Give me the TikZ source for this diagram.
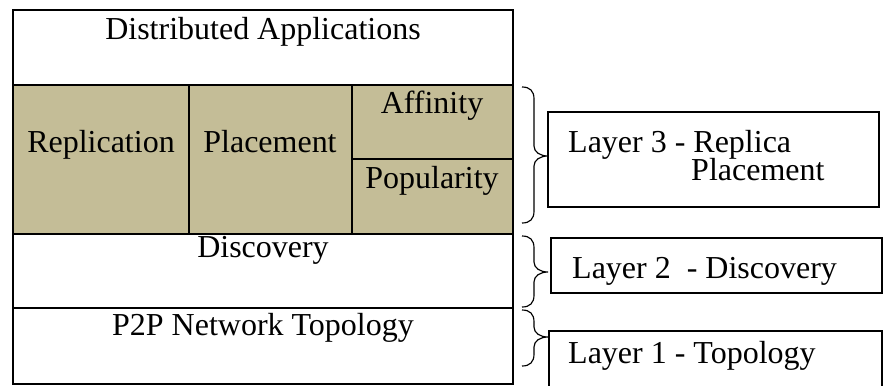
\documentclass[tikz,border=0pt]{standalone}
\usepackage{fontspec}
\setmainfont{Liberation Serif}
\usepackage{xcolor}
\usetikzlibrary{positioning}
\definecolor{tanfill}{HTML}{C4BD97}

\begin{document}
\begin{tikzpicture}[x=0.03cm,y=-0.03cm,
  cell/.style={line width=2pt},
  txt/.style={anchor=base,inner sep=0pt,font=\fontsize{27.3}{31}\selectfont},
  layerbox/.style={line width=1.3pt},
  bracepath/.style={line width=1pt}]
  \useasboundingbox (0,0) rectangle (885,385);
  % stack of layers
  \fill[tanfill] (13,85) rectangle (513,234);
  \draw[cell] (13,10) rectangle (513,384);
  \draw[cell] (13,85)--(513,85);
  \draw[cell] (13,234)--(513,234);
  \draw[cell] (13,308)--(513,308);
  \draw[cell] (189,85)--(189,234);
  \draw[cell] (352,85)--(352,234);
  \draw[cell] (352,159)--(513,159);
  \node[txt] (apps) at (263,39) {Distributed Applications};
  \node[txt] (repl) at (101,152) {Replication};
  \node[txt] (place) at (270,152) {Placement};
  \node[txt] (affin) at (432,113) {Affinity};
  \node[txt] (popul) at (432,188) {Popularity};
  \node[txt] (disc) at (263,257) {Discovery};
  \node[txt] (topo) at (263,335) {P2P Network Topology};
  % braces
  \foreach \t/\m/\b in {87/156/223,236/272/307,310/337/366}
    \draw[bracepath] (522,\t) .. controls (530,\t) and (534,\t+4) .. (534,\t+12)
      -- (534,\m-10) .. controls (534,\m-4) and (540,\m) .. (548,\m)
      .. controls (540,\m) and (534,\m+4) .. (534,\m+10)
      -- (534,\b-12) .. controls (534,\b-4) and (530,\b) .. (522,\b);
  % layer labels
  \draw[layerbox] (548,112) rectangle (879,207);
  \draw[layerbox] (551,238) rectangle (882,293);
  \draw[layerbox] (549,331) rectangle (882,395);
  \node[txt,anchor=base west] (lthree) at (568,152) {Layer 3 - Replica};
  \node[txt,anchor=base west] (lthreeb) at (691,180) {Placement};
  \node[txt,anchor=base west] (ltwo) at (572,278) {Layer 2\ \ - Discovery};
  \node[txt,anchor=base west] (lone) at (568,363) {Layer 1 - Topology};
\end{tikzpicture}
\end{document}
